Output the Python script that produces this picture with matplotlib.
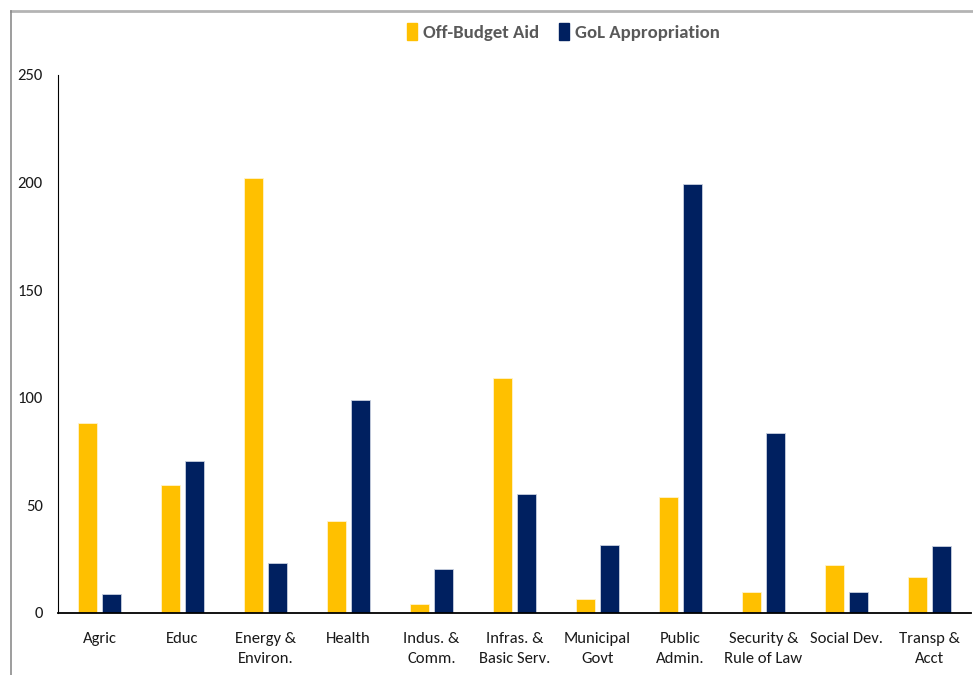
import numpy as np
import matplotlib
matplotlib.use('Agg')
import matplotlib.pyplot as plt
from matplotlib.patches import Patch
from matplotlib.lines import Line2D

plt.rcParams['font.family'] = ['Carlito', 'DejaVu Sans']

# === DỮ LIỆU ===
categories = ['Agric', 'Educ', 'Energy &\nEnviron.', 'Health', 'Indus. &\nComm.',
              'Infras. &\nBasic Serv.', 'Municipal\nGovt', 'Public\nAdmin.',
              'Security &\nRule of Law', 'Social Dev.', 'Transp &\nAcct']
off_budget = [88.3, 59.5, 202, 42.8, 4.2, 109, 6.5, 54, 9.8, 22.3, 16.7]
gol_approp = [8.8, 70.6, 23.2, 99, 20.4, 55.3, 31.6, 199.3, 83.6, 9.8, 31.1]
yticks = [0, 50, 100, 150, 200, 250]

yellow = '#FFC000'
navy = '#002060'

fig = plt.figure(figsize=(9.73, 6.75), dpi=100)
ax = fig.add_axes([0.0596, 0.0919, 0.9384, 0.797])

x = np.arange(len(categories))
w = 0.22
ax.bar(x - 0.145, off_budget, w, color=yellow, edgecolor='#fff3cc', linewidth=0.6)
ax.bar(x + 0.145, gol_approp, w, color=navy, edgecolor='#c8d0e0', linewidth=0.6)

ax.set_xlim(-0.5, len(categories) - 0.5)
ax.set_ylim(0, 250)
ax.set_yticks(yticks)
ax.set_yticklabels([str(v) for v in yticks], fontsize=12, color='#1a1a1a')
ax.set_xticks(x)
ax.set_xticklabels(categories, fontsize=12, color='#1a1a1a', linespacing=1.55)
ax.tick_params(axis='both', length=0)
ax.tick_params(axis='y', pad=11)
ax.tick_params(axis='x', pad=14)
for s in ['top', 'right']:
    ax.spines[s].set_visible(False)
ax.spines['left'].set_linewidth(0.8)
ax.spines['bottom'].set_linewidth(1.3)

handles = [Patch(color=yellow, label='Off-Budget Aid'),
           Patch(color=navy, label='GoL Appropriation')]
fig.legend(handles=handles, loc='center', bbox_to_anchor=(0.579, 0.953), ncol=2,
           frameon=False, handlelength=0.55, handleheight=1.0, handletextpad=0.3,
           columnspacing=1.05, prop={'weight': 'bold', 'size': 13.5},
           labelcolor='#595959')

# khung viền xám
fx = 10.5 / 973
fy = 1 - 11 / 675
fig.add_artist(Line2D([fx, 1.0], [fy, fy], transform=fig.transFigure,
                      color='#b4b4b4', linewidth=2.0))
fig.add_artist(Line2D([fx, fx], [0, fy], transform=fig.transFigure,
                      color='#8c8c8c', linewidth=1.2))

fig.savefig('out.png', dpi=100)
